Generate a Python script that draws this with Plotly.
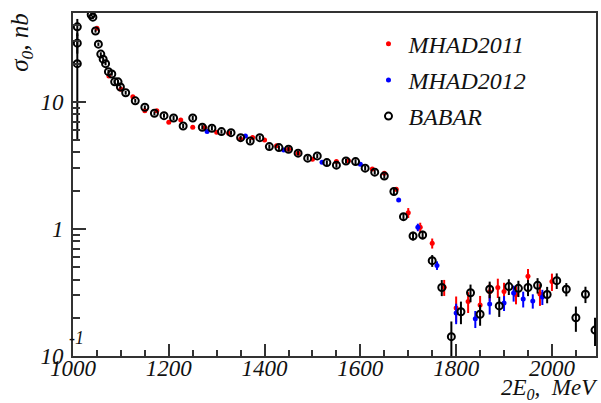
import plotly.graph_objects as go

# ---------------- data ----------------
babar_x = [1009, 1009, 1009, 1038, 1041.5, 1047, 1053, 1058, 1063, 1068, 1074, 1081, 1087, 1094, 1099,
           1110, 1130, 1150, 1170, 1190, 1210, 1230, 1250, 1270, 1290,
           1310, 1330, 1350, 1370, 1390, 1410, 1430, 1450, 1470, 1490,
           1510, 1530, 1550, 1570, 1590, 1610, 1630, 1650, 1670, 1690,
           1710, 1730, 1750, 1770, 1790, 1810, 1830, 1850, 1870, 1890,
           1910, 1930, 1950, 1970, 1990, 2010, 2030, 2050, 2070, 2090]
babar_y = [39, 29, 20, 48.5, 46.5, 36.2, 28.5, 23.8, 21.7, 20.0, 17.3, 16.6, 14.4, 14.4, 13.1,
           11.8, 10.2, 9.08, 8.14, 7.80, 7.48, 6.47, 7.48, 6.32, 6.21,
           5.84, 5.73, 5.23, 4.93, 5.23, 4.45, 4.37, 4.24, 3.95, 3.61,
           3.76, 3.33, 3.18, 3.43, 3.39, 3.01, 2.80, 2.61, 1.97, 1.25,
           0.881, 0.897, 0.563, 0.346, 0.142, 0.223, 0.315, 0.213, 0.335, 0.248,
           0.352, 0.341, 0.346, 0.360, 0.305, 0.392, 0.335, 0.200, 0.306, 0.160]
babar_err = [6, 5, 15, 1.5, 1.4, 1.1, 0.9, 0.8, 0.7, 0.6, 0.6, 0.5, 0.5, 0.5, 0.4,
             0.4, 0.35, 0.3, 0.3, 0.3, 0.3, 0.25, 0.3, 0.25, 0.25,
             0.22, 0.22, 0.2, 0.2, 0.2, 0.18, 0.18, 0.17, 0.16, 0.15,
             0.15, 0.14, 0.14, 0.15, 0.15, 0.13, 0.12, 0.12, 0.1, 0.07,
             0.07, 0.07, 0.06, 0.05, 0.045, 0.045, 0.05, 0.04, 0.05, 0.045,
             0.05, 0.05, 0.05, 0.05, 0.045, 0.055, 0.04, 0.045, 0.045, 0.04]

mhad2011_x = [1050, 1075, 1100, 1125, 1150, 1175, 1200, 1225, 1250, 1275,
              1300, 1325, 1350, 1375, 1400, 1425, 1450, 1470, 1500, 1550,
              1575, 1625, 1650, 1675, 1700, 1725, 1750, 1775, 1800, 1825,
              1850, 1870, 1887, 1900, 1925, 1950, 1975, 2000]
mhad2011_y = [38.0, 16.0, 12.6, 11.0, 8.54, 8.54, 6.92, 7.21, 6.32, 6.28,
              5.77, 5.67, 5.11, 5.24, 5.02, 4.51, 4.24, 3.95, 3.54, 3.39,
              3.45, 2.97, 2.75, 2.05, 1.34, 1.03, 0.771, 0.347, 0.239, 0.268,
              0.252, 0.321, 0.346, 0.322, 0.305, 0.424, 0.308, 0.385]
mhad2011_err = [1.0, 0.4, 0.3, 0.25, 0.2, 0.2, 0.17, 0.17, 0.15, 0.15,
                0.14, 0.14, 0.13, 0.13, 0.12, 0.11, 0.11, 0.1, 0.09, 0.09,
                0.09, 0.08, 0.08, 0.08, 0.12, 0.09, 0.07, 0.05, 0.055, 0.05,
                0.045, 0.05, 0.06, 0.055, 0.05, 0.06, 0.06, 0.06]

mhad2012_x = [1280, 1360, 1440, 1520, 1600, 1680, 1720, 1760, 1800, 1840,
              1870, 1900, 1920, 1940, 1960, 1980]
mhad2012_y = [5.84, 5.40, 4.19, 3.35, 3.23, 1.69, 1.03, 0.516, 0.218, 0.196,
              0.257, 0.261, 0.313, 0.281, 0.271, 0.292]
mhad2012_err = [0.15, 0.14, 0.12, 0.1, 0.1, 0.06, 0.07, 0.04, 0.04, 0.03,
                0.045, 0.035, 0.045, 0.04, 0.035, 0.04]

y_tickvals = [0.1, 1, 10]
y_ticktext = ["10", "1", "10"]

# ---------------- figure ----------------
FONT = "Liberation Serif"

fig = go.Figure()
fig.add_trace(go.Scatter(
    x=mhad2011_x, y=mhad2011_y, mode="markers", name="MHAD2011",
    marker=dict(color="#ff0000", size=5, symbol="circle"),
    error_y=dict(type="data", array=mhad2011_err, color="#ff0000", thickness=2, width=0),
    legendgroup="a"))
fig.add_trace(go.Scatter(
    x=mhad2012_x, y=mhad2012_y, mode="markers", name="MHAD2012",
    marker=dict(color="#0000ff", size=5, symbol="circle"),
    error_y=dict(type="data", array=mhad2012_err, color="#0000ff", thickness=2, width=0),
    legendgroup="b"))
fig.add_trace(go.Scatter(
    x=babar_x, y=babar_y, mode="markers", name="BABAR",
    marker=dict(color="#000000", size=7, symbol="circle-open", line=dict(width=2, color="#000000")),
    error_y=dict(type="data", array=babar_err, color="#000000", thickness=2, width=0),
    legendgroup="c"))

axis_common = dict(
    showgrid=False, zeroline=False, showline=True, linecolor="#333333", linewidth=2,
    mirror=True, ticks="inside", tickcolor="#333333", tickwidth=1.5,
    tickfont=dict(family=FONT, size=23, color="#111111", style="italic"),
)

fig.update_xaxes(
    **axis_common, range=[1000, 2092], tickmode="linear", tick0=1000, dtick=200,
    ticklen=12, ticklabelstandoff=-10,
    minor=dict(ticks="inside", dtick=50, ticklen=6, tickcolor="#333333", tickwidth=1.5, showgrid=False),
)
fig.update_yaxes(
    **axis_common, type="log", range=[-1, 1.7], tickmode="array",
    tickvals=y_tickvals, ticktext=y_ticktext, ticklen=13, ticklabelstandoff=3,
    minor=dict(ticks="inside", dtick="D1", ticklen=7, tickcolor="#333333", tickwidth=1.5, showgrid=False),
)

fig.update_layout(
    width=601, height=403,
    margin=dict(l=73, r=3, t=13, b=47),
    paper_bgcolor="white", plot_bgcolor="white",
    showlegend=True,
    legend=dict(x=0.565, y=0.975, xanchor="left", yanchor="top",
                font=dict(family=FONT, size=24, color="#111111", style="italic"),
                bgcolor="rgba(0,0,0,0)", tracegroupgap=2, itemwidth=30),
    annotations=[
        dict(text="2E<sub>0</sub>,  MeV", xref="paper", yref="paper", x=1.008, y=-0.096,
             xanchor="right", yanchor="middle", showarrow=False,
             font=dict(family=FONT, size=23, color="#111111", style="italic")),
        dict(text="σ<sub>0</sub>, nb", xref="paper", yref="paper", x=-0.10, y=0.915,
             xanchor="center", yanchor="middle", textangle=-90, showarrow=False,
             font=dict(family=FONT, size=25, color="#111111", style="italic")),
        dict(text="-1", xref="paper", yref="paper", x=-0.012, y=0.0525,
             xanchor="left", yanchor="middle", showarrow=False,
             font=dict(family=FONT, size=18, color="#111111", style="italic")),
    ],
)

fig.write_html("out.html")
